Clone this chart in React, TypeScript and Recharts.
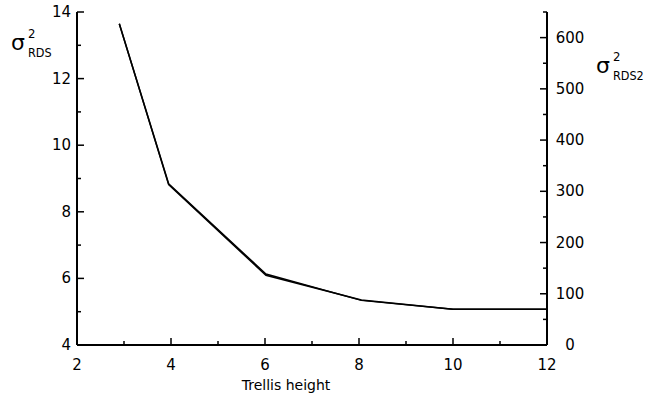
import { LineChart, Line, XAxis, YAxis, Label } from 'recharts'

// trellis height vs. variance on both scales
const trellisHeight = [2.9, 3.95, 6.02, 8.05, 10, 12]
const varianceRds = [13.65, 8.84, 6.13, 5.34, 5.07, 5.07]
const varianceRds2 = [627, 313, 136, 88, 70, 70]

const xTicks = [2, 3, 4, 5, 6, 7, 8, 9, 10, 11, 12]
const leftTicks = [4, 5, 6, 7, 8, 9, 10, 11, 12, 13, 14]
const rightTicks = [0, 50, 100, 150, 200, 250, 300, 350, 400, 450, 500, 550, 600, 650]

const data = trellisHeight.map((h, i) => ({
  height: h,
  rds: varianceRds[i],
  rds2: varianceRds2[i],
}))

const FONT = '"DejaVu Sans", Verdana, sans-serif'
const NARROW = '"DejaVu Sans Condensed", "DejaVu Sans", sans-serif'
const INK = '#000'

// ticks are drawn inward from the axis line, labels only on major ticks
function BottomTick(props: any) {
  const { x, y, payload } = props
  const major = payload.value % 2 === 0
  return (
    <g>
      <line x1={x} x2={x} y1={y} y2={y - (major ? 7 : 4)} stroke={INK} strokeWidth={1.5} />
      {major && (
        <text x={x} y={y + 25} textAnchor='middle' fontFamily={FONT} fontSize={15} fill={INK}>
          {payload.value}
        </text>
      )}
    </g>
  )
}

function LeftTick(props: any) {
  const { x, y, payload } = props
  const major = payload.value % 2 === 0
  return (
    <g>
      <line x1={x} x2={x + (major ? 7 : 4)} y1={y} y2={y} stroke={INK} strokeWidth={1.5} />
      {major && (
        <text x={x - 6} y={y + 5} textAnchor='end' fontFamily={FONT} fontSize={15} fill={INK}>
          {payload.value}
        </text>
      )}
    </g>
  )
}

function RightTick(props: any) {
  const { x, y, payload } = props
  const major = payload.value % 100 === 0
  return (
    <g>
      <line x1={x} x2={x - (major ? 7 : 4)} y1={y} y2={y} stroke={INK} strokeWidth={1.5} />
      {major && (
        <text x={x + 23} y={y + 5} textAnchor='middle' fontFamily={FONT} fontSize={15} fill={INK}>
          {payload.value}
        </text>
      )}
    </g>
  )
}

function SigmaLabel({ x, y, sub }: { x: number; y: number; sub: string }) {
  return (
    <g fill={INK}>
      <text x={x} y={y} fontFamily={FONT} fontSize={22}>σ</text>
      <text x={x + 17} y={y - 12} fontFamily={NARROW} fontSize={13}>2</text>
      <text x={x + 17} y={y + 7} fontFamily={NARROW} fontSize={12.5}>{sub}</text>
    </g>
  )
}

export default function App() {
  return (
    <div style={{ position: 'absolute', left: 0, top: 0, width: 645, height: 404, background: '#fff' }}>
      <LineChart width={645} height={404} data={data} margin={{ top: 12, right: 0, bottom: 0, left: 0 }}>
        <XAxis
          dataKey='height'
          type='number'
          domain={[2, 12]}
          ticks={xTicks}
          interval={0}
          height={59}
          tickSize={0}
          tickMargin={0}
          tickLine={false}
          axisLine={{ stroke: INK, strokeWidth: 2 }}
          tick={BottomTick}
        >
          <Label
            content={() => (
              <text x={286} y={390} textAnchor='middle' fontFamily={FONT} fontSize={14} fill={INK}>
                Trellis height
              </text>
            )}
          />
        </XAxis>
        <YAxis
          yAxisId='left'
          type='number'
          domain={[4, 14]}
          ticks={leftTicks}
          interval={0}
          width={77}
          tickSize={0}
          tickMargin={0}
          tickLine={false}
          axisLine={{ stroke: INK, strokeWidth: 2 }}
          tick={LeftTick}
        >
          <Label content={() => <SigmaLabel x={11} y={50} sub='RDS' />} />
        </YAxis>
        <YAxis
          yAxisId='right'
          orientation='right'
          type='number'
          domain={[0, 650]}
          ticks={rightTicks}
          interval={0}
          width={98}
          tickSize={0}
          tickMargin={0}
          tickLine={false}
          axisLine={{ stroke: INK, strokeWidth: 2 }}
          tick={RightTick}
        >
          <Label content={() => <SigmaLabel x={596} y={73} sub='RDS2' />} />
        </YAxis>
        <Line
          yAxisId='left'
          dataKey='rds'
          type='linear'
          stroke={INK}
          strokeWidth={1.5}
          dot={false}
          isAnimationActive={false}
        />
        <Line
          yAxisId='right'
          dataKey='rds2'
          type='linear'
          stroke={INK}
          strokeWidth={1.5}
          dot={false}
          isAnimationActive={false}
        />
      </LineChart>
    </div>
  )
}
